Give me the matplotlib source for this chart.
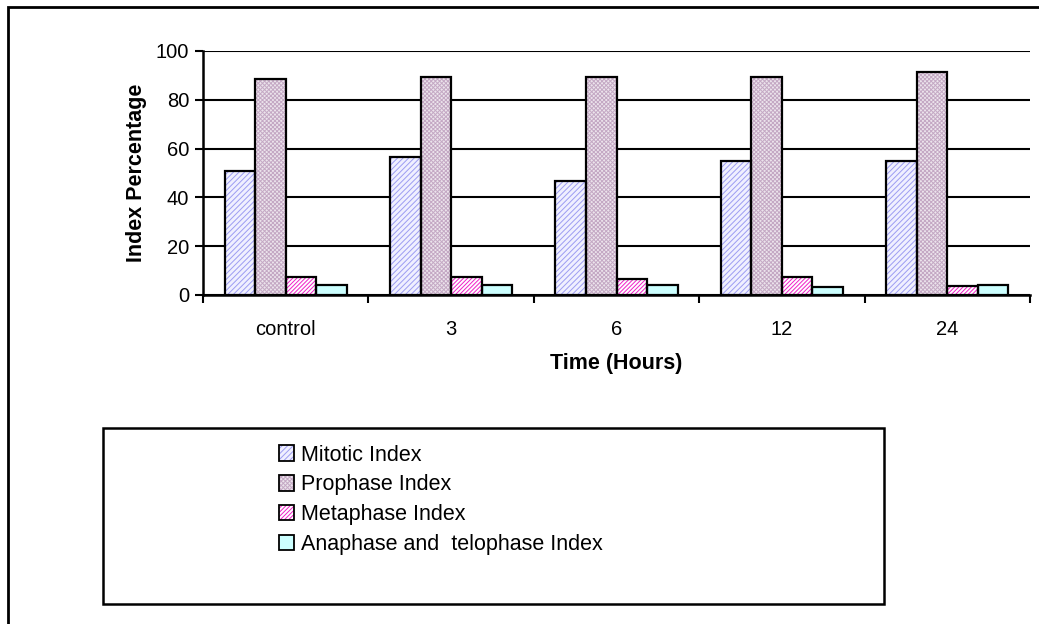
import matplotlib
matplotlib.use("Agg")
import matplotlib.pyplot as plt
import numpy as np
from matplotlib.patches import Patch, Rectangle
from matplotlib.legend_handler import HandlerTuple

plt.rcParams['font.family'] = ['Liberation Sans', 'DejaVu Sans']
plt.rcParams['hatch.linewidth'] = 0.7

categories = ["control", "3", "6", "12", "24"]
series_names = ["Mitotic Index", "Prophase Index", "Metaphase Index",
                "Anaphase and  telophase Index"]
mitotic = [50.8, 56.6, 46.7, 54.8, 54.8]
prophase = [88.4, 89.2, 89.2, 89.2, 91.5]
metaphase = [7.5, 7.5, 6.6, 7.5, 3.8]
anaphase = [4.2, 4.2, 4.1, 3.4, 4.2]
series = [mitotic, prophase, metaphase, anaphase]
yticks = [0, 20, 40, 60, 80, 100]

faces = ['#f0f0ff', '#ece4ec', '#ffffff', '#ccffff']
hatch_cols = ['#9c9cf2', '#c4a8c4', '#f020c8', '#ccffff']
hatches = ['//////', 'xxxxxxxx', '////////', None]

W, H = 1039, 624
fig = plt.figure(figsize=(W / 100, H / 100), dpi=100)
ax = fig.add_axes([203 / W, 1 - 295 / H, (1030 - 203) / W, (295 - 51) / H])

x = np.arange(len(categories))
bw = 0.185
offsets = (np.arange(4) - 1.5) * bw
handles = []
for i, vals in enumerate(series):
    ax.bar(x + offsets[i], vals, bw, facecolor=faces[i], edgecolor=hatch_cols[i],
           hatch=hatches[i], linewidth=0, zorder=3)
    ax.bar(x + offsets[i], vals, bw, facecolor='none', edgecolor='black',
           linewidth=1.6, zorder=4)
    h1 = Patch(facecolor=faces[i], edgecolor=hatch_cols[i], hatch=hatches[i], linewidth=0)
    h2 = Patch(facecolor='none', edgecolor='black', linewidth=1.3)
    handles.append((h1, h2))

ax.set_xlim(-0.5, len(categories) - 0.5)
ax.set_ylim(0, 100)
ax.set_yticks(yticks)
ax.yaxis.grid(True, color='black', linewidth=1.5, zorder=0)
ax.set_axisbelow(True)
ax.set_xticks(np.arange(-0.5, len(categories)), labels=[''] * (len(categories) + 1))
ax.set_xticks(x, labels=categories, minor=True)
ax.tick_params(axis='x', which='major', length=6, width=1.5, direction='out')
ax.tick_params(axis='x', which='minor', length=0, pad=18, labelsize=14.5)
ax.tick_params(axis='y', length=6, width=1.5, direction='out', labelsize=14.5, pad=4)
for s in ['top', 'right']:
    ax.spines[s].set_visible(False)
for s in ['left', 'bottom']:
    ax.spines[s].set_linewidth(1.8)
    ax.spines[s].set_zorder(5)

ax.set_xlabel("Time (Hours)", fontsize=15.5, fontweight='bold', labelpad=10)
ax.set_ylabel("Index Percentage", fontsize=15.5, fontweight='bold', labelpad=6)

# figure border
fig.patches.append(Rectangle((8 / W, -0.1), 1.2, 1.1 - 7 / H, transform=fig.transFigure,
                             fill=False, edgecolor='black', linewidth=2))
# legend frame
fig.patches.append(Rectangle((103 / W, 1 - 604 / H), (884 - 103) / W, (604 - 428) / H,
                             transform=fig.transFigure, fill=False,
                             edgecolor='black', linewidth=1.8))
fig.legend(handles, series_names, handler_map={tuple: HandlerTuple(ndivide=1)},
           loc='upper left', bbox_to_anchor=(270 / W, 1 - 436 / H), frameon=False,
           fontsize=15.5, handlelength=0.72, handleheight=0.72, handletextpad=0.3,
           labelspacing=0.41, borderaxespad=0)

fig.savefig("out.png", dpi=100)
